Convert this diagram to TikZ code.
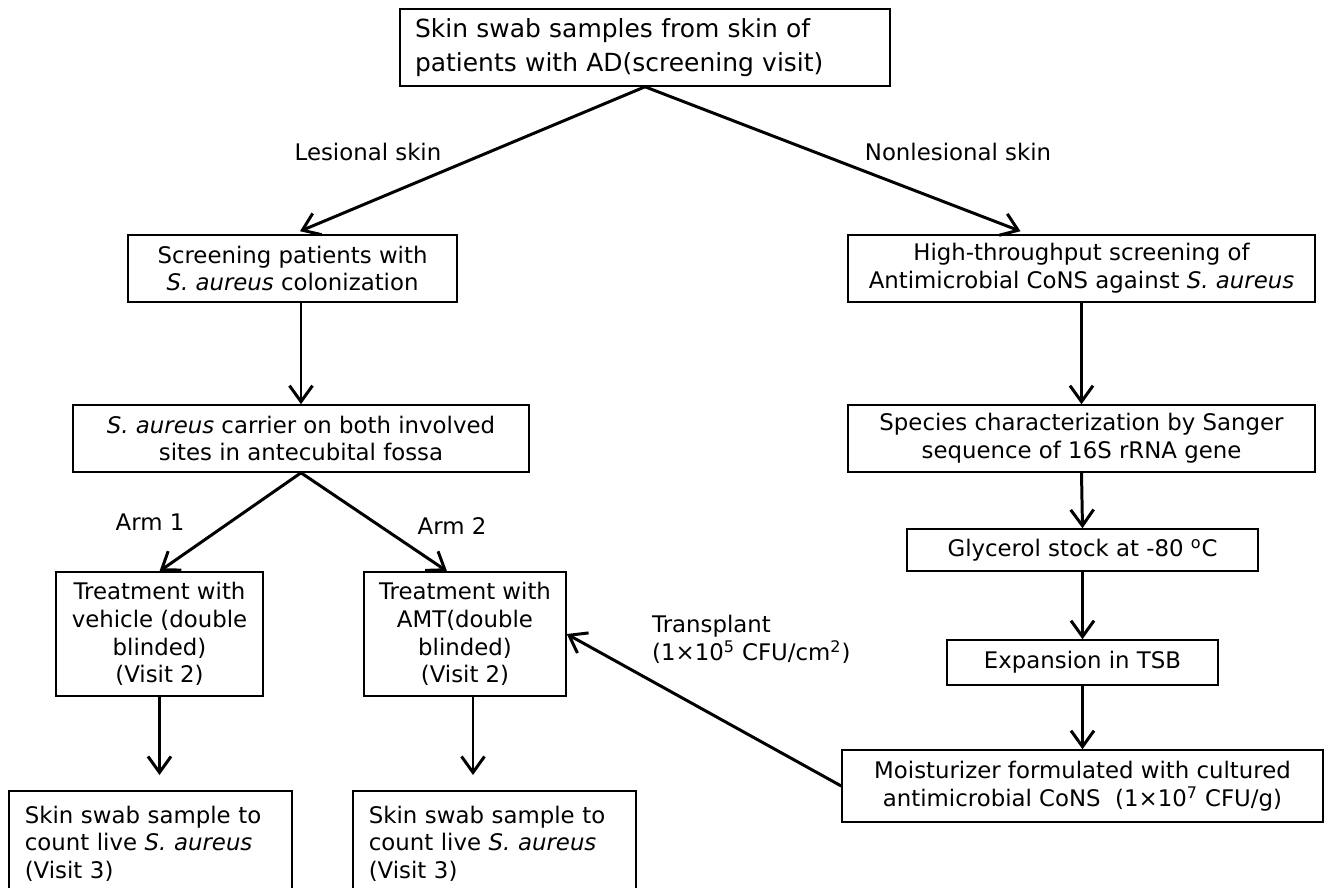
\documentclass[tikz,border=0pt]{standalone}
\usepackage{fontspec}
\setmainfont{DejaVu Sans}
\usepackage{tikz}
\usetikzlibrary{arrows.meta}
\def\saur{\textit{S. aureus}}

\begin{document}
\begin{tikzpicture}[x=0.02cm,y=-0.02cm,
   font=\fontsize{13}{15.8}\selectfont,
   box/.style={draw,line width=0.9pt,inner sep=0pt,align=center},
   arr/.style={line width=1.7pt,-{Straight Barb[length=3.2mm,width=4.6mm]}}]
   \clip (0,0) rectangle (1325,888);
   % top
   \node[box,align=left,inner xsep=0.3cm,text width=9.2cm,minimum height=1.54cm,font=\fontsize{14.2}{19}\selectfont] (swab) at (645,47.5) {Skin swab samples from skin of\\patients with AD(screening visit)};
   \node (lesional) at (368,152) {Lesional skin};
   \node (nonlesional) at (958,152) {Nonlesional skin};
   % left branch
   \node[box,minimum width=6.58cm,minimum height=1.34cm] (screen) at (292.5,268.5) {Screening patients with\\\saur{} colonization};
   \node[box,minimum width=9.12cm,minimum height=1.34cm] (carrier) at (301,438.5) {\saur{} carrier on both involved\\sites in antecubital fossa};
   \node (arma) at (150,522) {Arm 1};
   \node (armb) at (452,526) {Arm 2};
   \node[box,minimum width=4.14cm,minimum height=2.48cm] (vehicle) at (159.5,634) {Treatment with\\vehicle (double\\blinded)\\(Visit 2)};
   \node[box,minimum width=4.04cm,minimum height=2.48cm] (amt) at (465,634) {Treatment with\\AMT(double\\blinded)\\(Visit 2)};
   \node[box,align=left,anchor=north west,inner xsep=0.32cm,inner ysep=0.1cm,text width=5.02cm,minimum height=2.12cm,font=\fontsize{13}{15.4}\selectfont] (counta) at (8,790) {Skin swab sample to\\count live \saur\\(Visit 3)};
   \node[box,align=left,anchor=north west,inner xsep=0.32cm,inner ysep=0.1cm,text width=5.02cm,minimum height=2.12cm,font=\fontsize{13}{15.4}\selectfont] (countb) at (352,790) {Skin swab sample to\\count live \saur\\(Visit 3)};
   % right branch
   \node[box,minimum width=9.34cm,minimum height=1.34cm] (hts) at (1081.5,268.5) {High-throughput screening of\\Antimicrobial CoNS against \saur};
   \node[box,minimum width=9.34cm,minimum height=1.34cm] (species) at (1081.5,438.5) {Species characterization by Sanger\\sequence of 16S rRNA gene};
   \node[box,minimum width=7.02cm,minimum height=0.84cm] (glycerol) at (1082.5,550) {Glycerol stock at -80 \textsuperscript{o}C};
   \node[box,minimum width=5.42cm,minimum height=0.9cm] (expansion) at (1082.5,662.5) {Expansion in TSB};
   \node[box,minimum width=9.62cm,minimum height=1.44cm] (moist) at (1082.5,786) {Moisturizer formulated with cultured\\antimicrobial CoNS\ \ (1×10\textsuperscript{7} CFU/g)};
   \node[anchor=west,align=left] (transplant) at (646,639) {Transplant\\(1×10\textsuperscript{5} CFU/cm\textsuperscript{2})};
   % arrows
   \draw[arr] (swab.south) -- ([xshift=0.15cm,yshift=0.06cm]screen.north);
   \draw[arr] (swab.south) -- ([xshift=-1.22cm,yshift=0.06cm]hts.north);
   \draw[arr] (carrier.north |- screen.south) -- (carrier.north);
   \draw[arr] (carrier.south) -- (vehicle.north);
   \draw[arr] (carrier.south) -- ([xshift=-0.36cm]amt.north);
   \draw[arr,shorten >=0.3cm] (vehicle.south) -- (vehicle.south |- counta.north);
   \draw[arr,shorten >=0.3cm] ([xshift=0.16cm]amt.south) -- ([xshift=0.16cm]amt.south |- countb.north);
   \draw[arr] (hts.south) -- (species.north);
   \draw[arr] (species.south) -- (glycerol.north);
   \draw[arr] (glycerol.south) -- (expansion.north);
   \draw[arr] (expansion.south) -- (moist.north);
   \draw[arr] (moist.west) -- (amt.east);
\end{tikzpicture}
\end{document}
